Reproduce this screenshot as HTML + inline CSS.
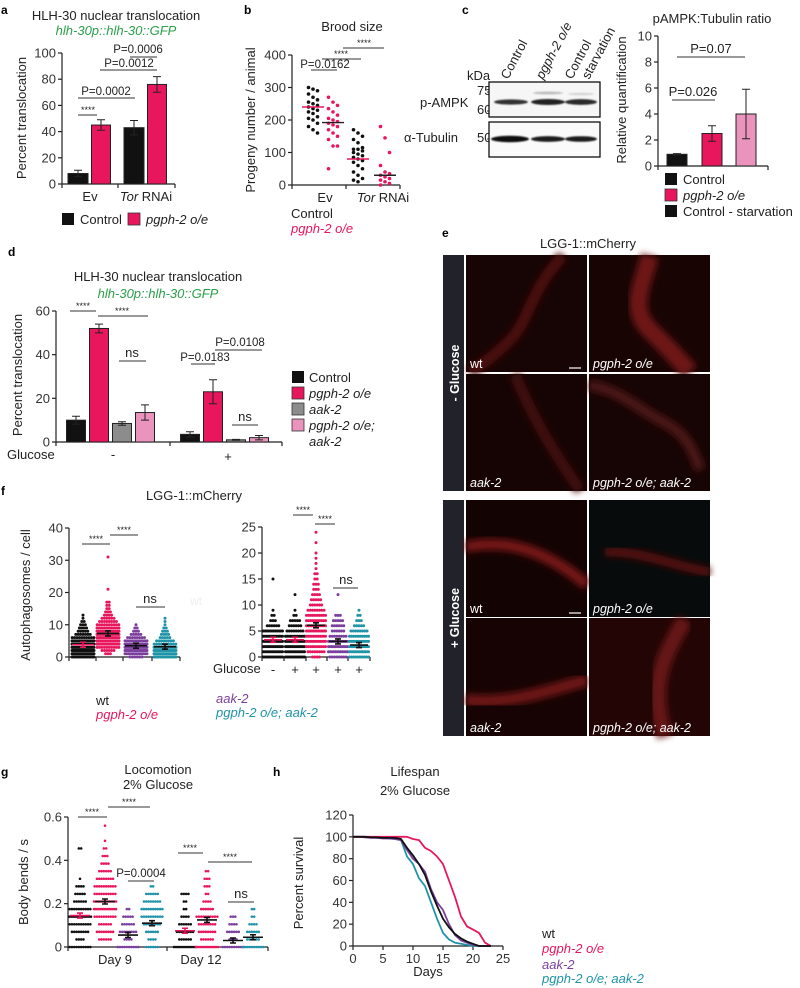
<!DOCTYPE html>
<html><head><meta charset="utf-8"><style>
html,body{margin:0;padding:0;background:#fff}
svg{display:block;font-family:"Liberation Sans",Arial,sans-serif}
.t{font-size:13px;fill:#222}
.tk{font-size:13px;fill:#333}
.s{font-size:9px;fill:#222}
.p{font-size:11.5px;fill:#222}
.pl{font-size:12px;font-weight:bold;fill:#000}
.ax{stroke:#222;stroke-width:1.2;fill:none}
.sg{stroke:#333;stroke-width:1;fill:none}
.it{font-style:italic}
.wl{font-size:12.5px;fill:#fff}
</style></head><body>
<svg id="fig" width="800" height="988" viewBox="0 0 800 988" xmlns="http://www.w3.org/2000/svg">
<defs>
<filter id="blur" x="-20%" y="-20%" width="140%" height="140%"><feGaussianBlur stdDeviation="3.5"/></filter>
<filter id="blur1"><feGaussianBlur stdDeviation="0.7"/></filter>
</defs>

<!-- Panel a -->
<g>
<text class="pl" x="1" y="14">a</text>
<text class="t" x="116" y="20" text-anchor="middle" font-size="14">HLH-30 nuclear translocation</text>
<text class="t it" x="116" y="35" text-anchor="middle" style="fill:#2ba04a" font-size="13.5">hlh-30p::hlh-30::GFP</text>
<text class="t" transform="translate(26,118) rotate(-90)" text-anchor="middle" font-size="13.5">Percent translocation</text>
<g id="aAxis"></g>
<g id="aBars"></g>
<g>
<line class="sg" x1="78" y1="115" x2="97" y2="115"/><text class="s" x="88" y="113" text-anchor="middle">****</text>
<line class="sg" x1="78" y1="98" x2="135" y2="98"/><text class="p" x="106" y="95" text-anchor="middle">P=0.0002</text>
<line class="sg" x1="100" y1="70" x2="157" y2="70"/><text class="p" x="129" y="67" text-anchor="middle">P=0.0012</text>
<line class="sg" x1="130" y1="57" x2="157" y2="57"/><text class="p" x="138" y="53" text-anchor="middle">P=0.0006</text>
</g>
<text class="t" x="90" y="201" text-anchor="middle">Ev</text>
<text class="t" x="146" y="201" text-anchor="middle"><tspan class="it">Tor</tspan> RNAi</text>
<rect x="62" y="213" width="12" height="12" fill="#111"/>
<text class="t" x="80" y="224">Control</text>
<rect x="128" y="213" width="12" height="12" fill="#e8175d" stroke="#333" stroke-width="0.8"/>
<text class="t it" x="146" y="224">pgph-2 o/e</text>
</g>

<!-- Panel b -->
<g>
<text class="pl" x="244" y="14">b</text>
<text class="t" x="352" y="31" text-anchor="middle" font-size="14">Brood size</text>
<text class="t" transform="translate(255,120) rotate(-90)" text-anchor="middle" font-size="13.5">Progeny number / animal</text>
<g id="bAxis"></g>
<g id="bDots"></g>
<g>
<line class="sg" x1="311" y1="70" x2="337" y2="70"/><text class="p" x="325" y="68" text-anchor="middle">P=0.0162</text>
<line class="sg" x1="322" y1="59" x2="361" y2="59"/><text class="s" x="341" y="57" text-anchor="middle">****</text>
<line class="sg" x1="343" y1="48" x2="384" y2="48"/><text class="s" x="364" y="46" text-anchor="middle">****</text>
</g>
<text class="t" x="325" y="202" text-anchor="middle">Ev</text>
<text class="t" x="383" y="202" text-anchor="middle"><tspan class="it">Tor</tspan> RNAi</text>
<text class="t" x="291" y="218">Control</text>
<text class="t it" x="291" y="233" style="fill:#e8175d">pgph-2 o/e</text>
</g>

<!-- Panel c -->
<g>
<text class="pl" x="462" y="14">c</text>
<text class="t" transform="translate(508,80) rotate(-62)">Control</text>
<text class="t it" transform="translate(543,80) rotate(-62)">pgph-2 o/e</text>
<text class="t" transform="translate(572,80) rotate(-62)">Control</text>
<text class="t" transform="translate(589,80) rotate(-62)">starvation</text>
<text class="t" x="467" y="80" font-size="9.5">kDa</text>
<text class="t" x="477" y="95" font-size="9">75</text>
<text class="t" x="477" y="114" font-size="9">60</text>
<text class="t" x="477" y="142" font-size="9">50</text>
<text class="t" x="420" y="107" font-size="13.5">p-AMPK</text>
<text class="t" x="404" y="142" font-size="13.5">α-Tubulin</text>
<line class="sg" x1="487" y1="92" x2="490" y2="92"/><line class="sg" x1="487" y1="111" x2="490" y2="111"/><line class="sg" x1="487" y1="139" x2="490" y2="139"/>
<rect x="489" y="82" width="111" height="35" fill="#f6f6f6" stroke="#111" stroke-width="1.3"/>
<rect x="489" y="122" width="111" height="35" fill="#fafafa" stroke="#111" stroke-width="1.3"/>
<g filter="url(#blur1)">
<ellipse cx="511" cy="102" rx="17" ry="2.6" fill="#333"/>
<ellipse cx="548" cy="102" rx="17" ry="3" fill="#222"/>
<ellipse cx="548" cy="93" rx="15" ry="1.4" fill="#bbb"/>
<ellipse cx="581" cy="102" rx="16" ry="2.9" fill="#2a2a2a"/>
<ellipse cx="581" cy="94" rx="13" ry="1.2" fill="#d4d4d4"/>
<ellipse cx="510" cy="139" rx="19" ry="3.2" fill="#111"/>
<ellipse cx="548" cy="139" rx="17" ry="2.9" fill="#1a1a1a"/>
<ellipse cx="581" cy="139" rx="16" ry="2.8" fill="#1e1e1e"/>
</g>
<text class="t" x="712" y="23" text-anchor="middle" font-size="13">pAMPK:Tubulin ratio</text>
<text class="t" transform="translate(626,100) rotate(-90)" text-anchor="middle" font-size="13">Relative quantification</text>
<g id="cAxis"></g>
<g id="cBars"></g>
<g>
<line class="sg" x1="672" y1="100" x2="715" y2="100"/><text class="t" x="693" y="96" text-anchor="middle">P=0.026</text>
<line class="sg" x1="677" y1="57" x2="745" y2="57"/><text class="t" x="711" y="53" text-anchor="middle">P=0.07</text>
</g>
<rect x="665" y="173" width="12" height="12" fill="#111"/>
<text class="t" x="683" y="184">Control</text>
<rect x="665" y="189" width="12" height="12" fill="#e8175d" stroke="#333" stroke-width="0.8"/>
<text class="t it" x="683" y="200">pgph-2 o/e</text>
<rect x="665" y="205" width="12" height="12" fill="#111"/>
<text class="t" x="683" y="216">Control - starvation</text>
</g>

<!-- Panel d -->
<g>
<text class="pl" x="8" y="256">d</text>
<text class="t" x="158" y="281" text-anchor="middle" font-size="14">HLH-30 nuclear translocation</text>
<text class="t it" x="158" y="298" text-anchor="middle" style="fill:#2ba04a" font-size="13.5">hlh-30p::hlh-30::GFP</text>
<text class="t" transform="translate(22,375) rotate(-90)" text-anchor="middle" font-size="13.5">Percent translocation</text>
<g id="dAxis"></g>
<g id="dBars"></g>
<g>
<line class="sg" x1="70" y1="311" x2="96" y2="311"/><text class="s" x="83" y="309" text-anchor="middle">****</text>
<line class="sg" x1="98" y1="316" x2="148" y2="316"/><text class="s" x="122" y="314" text-anchor="middle">****</text>
<line class="sg" x1="119" y1="361" x2="146" y2="361"/><text class="t" x="132" y="357" text-anchor="middle">ns</text>
<line class="sg" x1="191" y1="364" x2="215" y2="364"/><text class="p" x="205" y="361" text-anchor="middle">P=0.0183</text>
<line class="sg" x1="215" y1="350" x2="262" y2="350"/><text class="p" x="240" y="346" text-anchor="middle">P=0.0108</text>
<line class="sg" x1="232" y1="425" x2="258" y2="425"/><text class="t" x="245" y="421" text-anchor="middle">ns</text>
</g>
<text class="t" x="7" y="459" font-size="13.5">Glucose</text>
<text class="t" x="113" y="459" text-anchor="middle">-</text>
<text class="t" x="228" y="461" text-anchor="middle">+</text>
<rect x="292" y="371" width="12" height="12" fill="#111"/>
<text class="t" x="309" y="382">Control</text>
<rect x="292" y="387" width="12" height="12" fill="#e8175d" stroke="#333" stroke-width="0.8"/>
<text class="t it" x="309" y="398">pgph-2 o/e</text>
<rect x="292" y="403" width="12" height="12" fill="#8c8c8c" stroke="#333" stroke-width="0.8"/>
<text class="t it" x="309" y="414">aak-2</text>
<rect x="292" y="419" width="12" height="12" fill="#ea93bc" stroke="#333" stroke-width="0.8"/>
<text class="t it" x="309" y="430">pgph-2 o/e;</text>
<text class="t it" x="309" y="446">aak-2</text>
</g>

<!-- Panel e -->
<g>
<text class="pl" x="442" y="237">e</text>
<text class="t" x="588" y="248" text-anchor="middle">LGG-1::mCherry</text>
<rect x="443" y="255" width="21" height="236" fill="#22222a"/>
<text transform="translate(459,373) rotate(-90)" text-anchor="middle" font-size="12.5" font-weight="bold" fill="#fff">- Glucose</text>
<rect x="443" y="500" width="21" height="236" fill="#22222a"/>
<text transform="translate(459,618) rotate(-90)" text-anchor="middle" font-size="12.5" font-weight="bold" fill="#fff">+ Glucose</text>
<g><rect x="466" y="255" width="121" height="117" fill="#170404"/><path d="M563 256 C530 290 530 320 510 340 S 480 365 470 372" stroke="#4e1010" stroke-width="11" fill="none" filter="url(#blur)"/><line x1="569" y1="368" x2="581" y2="368" stroke="#fff" stroke-width="1.2"/><text class="wl" x="470" y="368">wt</text></g>
<g><rect x="589" y="255" width="121" height="117" fill="#190404"/><path d="M650 256 C640 290 630 310 650 330 S 670 350 690 372" stroke="#6e1414" stroke-width="18" fill="none" filter="url(#blur)"/><text class="wl it" x="593" y="368">pgph-2 o/e</text></g>
<g><rect x="466" y="374" width="121" height="117" fill="#160404"/><path d="M515 375 C530 410 545 440 580 490" stroke="#421010" stroke-width="11" fill="none" filter="url(#blur)"/><text class="wl it" x="470" y="487">aak-2</text></g>
<g><rect x="589" y="374" width="121" height="117" fill="#170404"/><path d="M589 385 C620 390 640 410 660 420 S 690 440 700 470" stroke="#4c1212" stroke-width="11" fill="none" filter="url(#blur)"/><text class="wl it" x="593" y="487">pgph-2 o/e; aak-2</text></g>
<g><rect x="466" y="500" width="121" height="117" fill="#140303"/><path d="M466 547 C500 540 540 545 587 585" stroke="#781616" stroke-width="11" fill="none" filter="url(#blur)"/><line x1="569" y1="613" x2="581" y2="613" stroke="#fff" stroke-width="1.2"/><text class="wl" x="470" y="613">wt</text></g>
<g><rect x="589" y="500" width="121" height="117" fill="#070b0b"/><path d="M605 552 C640 550 680 568 710 572" stroke="#5a1010" stroke-width="9" fill="none" filter="url(#blur)"/><text class="wl it" x="593" y="613">pgph-2 o/e</text></g>
<g><rect x="466" y="618" width="121" height="118" fill="#170303"/><path d="M466 700 C510 705 550 690 587 680" stroke="#701616" stroke-width="12" fill="none" filter="url(#blur)"/><text class="wl it" x="470" y="732">aak-2</text></g>
<g><rect x="589" y="618" width="121" height="118" fill="#240505"/><path d="M685 620 C660 660 650 690 665 736" stroke="#661414" stroke-width="16" fill="none" filter="url(#blur)"/><text class="wl it" x="593" y="732">pgph-2 o/e; aak-2</text></g>
</g>

<!-- Panel f -->
<g>
<text class="pl" x="1" y="495">f</text>
<text class="t" x="194" y="500" text-anchor="middle" font-size="14">LGG-1::mCherry</text>
<text class="t" transform="translate(30,595) rotate(-90)" text-anchor="middle" font-size="13.5">Autophagosomes / cell</text>
<g id="fAxis"></g>
<g id="fDots"></g>
<text x="190" y="605" font-size="12" fill="#eee">wt</text>
<g>
<line class="sg" x1="82" y1="544" x2="110" y2="544"/><text class="s" x="96" y="542" text-anchor="middle">****</text>
<line class="sg" x1="110" y1="535" x2="138" y2="535"/><text class="s" x="124" y="533" text-anchor="middle">****</text>
<line class="sg" x1="136" y1="607" x2="165" y2="607"/><text class="t" x="150" y="603" text-anchor="middle">ns</text>
<line class="sg" x1="293" y1="515" x2="313" y2="515"/><text class="s" x="303" y="513" text-anchor="middle">****</text>
<line class="sg" x1="315" y1="524" x2="335" y2="524"/><text class="s" x="325" y="522" text-anchor="middle">****</text>
<line class="sg" x1="333" y1="588" x2="358" y2="588"/><text class="t" x="346" y="584" text-anchor="middle">ns</text>
</g>
<text class="t" x="213" y="673" font-size="13.5">Glucose</text>
<text class="t" x="96" y="705">wt</text>
<text class="t it" x="96" y="719" style="fill:#e8175d">pgph-2 o/e</text>
<text class="t it" x="216" y="703" style="fill:#7b3f9e">aak-2</text>
<text class="t it" x="216" y="717" style="fill:#1f94a8">pgph-2 o/e; aak-2</text>
</g>

<!-- Panel g -->
<g>
<text class="pl" x="1" y="776">g</text>
<text class="t" x="158" y="774" text-anchor="middle" font-size="14">Locomotion</text>
<text class="t" x="158" y="789" text-anchor="middle" font-size="14">2% Glucose</text>
<text class="t" transform="translate(28,882) rotate(-90)" text-anchor="middle" font-size="13.5">Body bends / s</text>
<g id="gAxis"></g>
<g id="gDots"></g>
<g>
<line class="sg" x1="78" y1="817" x2="107" y2="817"/><text class="s" x="92" y="815" text-anchor="middle">****</text>
<line class="sg" x1="108" y1="807" x2="150" y2="807"/><text class="s" x="129" y="805" text-anchor="middle">****</text>
<line class="sg" x1="128" y1="881" x2="154" y2="881"/><text class="p" x="141" y="877" text-anchor="middle">P=0.0004</text>
<line class="sg" x1="178" y1="853" x2="203" y2="853"/><text class="s" x="190" y="851" text-anchor="middle">****</text>
<line class="sg" x1="208" y1="862" x2="252" y2="862"/><text class="s" x="230" y="860" text-anchor="middle">****</text>
<line class="sg" x1="228" y1="902" x2="254" y2="902"/><text class="t" x="241" y="898" text-anchor="middle">ns</text>
</g>
<text class="t" x="115" y="964" text-anchor="middle" font-size="14">Day 9</text>
<text class="t" x="201" y="964" text-anchor="middle" font-size="14">Day 12</text>
</g>

<!-- Panel h -->
<g>
<text class="pl" x="273" y="776">h</text>
<text class="t" x="415" y="776" text-anchor="middle" font-size="14">Lifespan</text>
<text class="t" x="415" y="795" text-anchor="middle" font-size="14">2% Glucose</text>
<text class="t" transform="translate(303,883) rotate(-90)" text-anchor="middle" font-size="13.5">Percent survival</text>
<g id="hAxis"></g>
<g id="hLines"></g>
<text class="t" x="428" y="976" text-anchor="middle" font-size="13.5">Days</text>
<text class="t" x="542" y="938">wt</text>
<text class="t it" x="542" y="953" style="fill:#e8175d">pgph-2 o/e</text>
<text class="t it" x="542" y="969" style="fill:#7b3f9e">aak-2</text>
<text class="t it" x="542" y="983" style="fill:#1f94a8">pgph-2 o/e; aak-2</text>
</g>
</svg>

<script>
// ---------- data ----------
const aCategories = ['Ev', 'Tor RNAi'];
const aControl = [8, 43];
const aPgph = [45, 76];
const aControlErr = [2.5, 5.5];
const aPgphErr = [4, 6];
const aTicks = [0, 20, 40, 60, 80, 100];

const bTicks = [0, 100, 200, 300, 400];
const bEvControl = [300,295,290,280,270,262,255,250,245,240,235,230,225,220,210,205,200,190,180,170,160];
const bEvPgph = [270,255,245,235,225,215,205,200,195,190,185,180,170,160,150,140,120,120,50];
const bTorControl = [170,160,150,140,130,115,110,110,105,100,95,90,85,80,75,70,60,50,40,30,20,15,10];
const bTorPgph = [180,145,100,60,40,35,30,25,20,15,10,5,0];
const bMedians = [240, 192, 80, 30];

const cValues = [0.9, 2.5, 4.0];
const cErrors = [0.05, 0.6, 1.9];
const cTicks = [0, 2, 4, 6, 8, 10];

const dControl = [10, 3.5];
const dPgph = [52, 23];
const dAak2 = [8.5, 1];
const dDouble = [13.5, 2];
const dControlErr = [1.8, 1.2];
const dPgphErr = [2, 5.5];
const dAak2Err = [0.8, 0.2];
const dDoubleErr = [3.5, 1];
const dTicks = [0, 20, 40, 60];

// counts of cells per integer autophagosome number (index = value)
const fLeftWt = [14,25,30,25,18,14,10,7,5,4,3,2,1,1];
const fLeftPgph = [0,3,6,10,14,18,20,18,15,12,10,8,6,4,3,2,2,2,0,0,0,1,0,0,0,0,0,0,0,0,0,1];
const fLeftAak2 = [6,14,20,20,16,12,8,5,3,2,1];
const fLeftDouble = [14,22,20,16,10,8,5,4,3,2,1,1,1];
const fLeftMeans = [3.8, 7.3, 3.5, 3.2];
const fLeftTicks = [0, 10, 20, 30, 40];
const fRightCtrlMinus = [12,14,16,16,14,12,6,3,2,1,0,0,0,0,0,1];
const fRightCtrlPlus = [12,14,16,14,12,8,6,5,2,1,0,0,1];
const fRightPgphPlus = [4,8,10,12,12,12,12,10,10,8,6,5,4,3,3,2,2,1,1,1,1,0,1,0,1];
const fRightAak2Plus = [8,12,14,12,8,6,6,5,3,0,0,0,1];
const fRightDoublePlus = [10,14,14,12,10,8,5,3,2,1];
const fRightMeans = [3.3, 3.3, 6.1, 3.0, 2.3];
const fRightGlucose = ['-', '+', '+', '+', '+'];
const fRightTicks = [0, 5, 10, 15, 20, 25];

// counts of worms per body-bend level (index k => k*0.035 bends/s)
const gStep = 0.035;
const gDay9Wt = [10,4,8,10,12,10,6,5,4,1,0,0,0,2];
const gDay9Pgph = [0,6,8,6,10,12,12,10,10,8,6,4,3,2,1,0,1];
const gDay9Aak2 = [10,4,8,6,5,2];
const gDay9Double = [6,4,6,8,10,10,8,6,2];
const gDay12Wt = [12,6,8,6,4,2,2,4];
const gDay12Pgph = [12,6,8,8,10,6,4,2,3,3,2];
const gDay12Aak2 = [10,4,6,4,3];
const gDay12Double = [10,6,6,4,2,2];
const gMeans = [0.145, 0.21, 0.055, 0.11, 0.075, 0.125, 0.03, 0.045];
const gTicks = [0, 0.2, 0.4, 0.6];

const hDays = [0,1,2,3,4,5,6,7,8,9,10,11,12,13,14,15,16,17,18,19,20,21,22,23];
const hWt = [100,100,100,99.5,99.5,99,99,99,98,90,83,75,65,50,37,25,17,11,7,4,2,0,0,0];
const hPgph = [100,100,100,100,100,100,100,100,100,100,98,97,90,87,82,75,60,45,27,18,15,12,3,0];
const hAak2 = [100,100,99.5,99,99,98.5,98.5,98,97,88,80,75,68,52,40,33,20,10,5,3,1,0,0,0];
const hDouble = [100,100,100,99.5,99,99,98.5,98,97,82,75,62,55,40,25,12,6,3,2,1,0,0,0,0];
const hXTicks = [0, 5, 10, 15, 20, 25];
const hYTicks = [0, 20, 40, 60, 80, 100, 120];

// ---------- helpers ----------
const NS = 'http://www.w3.org/2000/svg';
const PINK = '#e8175d', LPINK = '#ea93bc', GRAY = '#8c8c8c', PURPLE = '#7b3f9e', TEAL = '#1f94a8', BLACK = '#111';
function lin(d0, d1, r0, r1) { return v => r0 + (v - d0) * (r1 - r0) / (d1 - d0); }
function mk(parent, tag, attrs) {
  const el = document.createElementNS(NS, tag);
  for (const k in attrs) el.setAttribute(k, attrs[k]);
  parent.appendChild(el);
  return el;
}
function yAxis(g, x, y, ticks, fmt, name) {
  const ln = mk(g, 'line', {x1: x, y1: y(ticks[0]), x2: x, y2: y(ticks[ticks.length - 1]), class: 'ax'});
  
  
  ticks.forEach(t => {
    const tk = mk(g, 'line', {x1: x - 4, y1: y(t), x2: x, y2: y(t), class: 'ax'});
    
    
    const tx = mk(g, 'text', {x: x - 6, y: y(t) + 4.5, 'text-anchor': 'end', class: 'tk'});
    tx.textContent = fmt(t);
    
    
  });
}
function xAxis(g, x0, x1, y, ticks, name) {
  const ln = mk(g, 'line', {x1: x0, y1: y, x2: x1, y2: y, class: 'ax'});
  
  
  ticks.forEach(t => {
    const tk = mk(g, 'line', {x1: t, y1: y, x2: t, y2: y + 4, class: 'ax'});
    
    
  });
}
function bar(g, cx, w, y, v, err, fill, name) {
  const r = mk(g, 'rect', {x: cx - w / 2, y: y(v), width: w, height: y(0) - y(v), fill: fill, stroke: '#222', 'stroke-width': 1});
  
  
  const e = mk(g, 'path', {d: `M${cx} ${y(v - err)}V${y(v + err)}M${cx - 4} ${y(v + err)}H${cx + 4}M${cx - 4} ${y(v - err)}H${cx + 4}`, stroke: '#222', 'stroke-width': 1, fill: 'none'});
  
  
}
function swarm(g, cx, y, counts, step, color, r, sp, maxHalf, name) {
  counts.forEach((n, k) => {
    if (!n) return;
    const s = Math.min(sp, n > 1 ? 2 * maxHalf / (n - 1) : sp);
    for (let j = 0; j < n; j++) {
      const c = mk(g, 'circle', {cx: cx + (j - (n - 1) / 2) * s, cy: y(k * step), r: r, fill: color});
      
      
    }
  });
}
function meanLine(g, cx, w, yv, color, name) {
  const l = mk(g, 'path', {d: `M${cx - w / 2} ${yv}H${cx + w / 2}M${cx - 3} ${yv - 2.5}H${cx + 3}M${cx - 3} ${yv + 2.5}H${cx + 3}M${cx} ${yv - 2.5}V${yv + 2.5}`, stroke: color, 'stroke-width': 1.6, fill: 'none'});
  
  
}

// ---------- panel a ----------
(function () {
  const g = document.getElementById('aBars'), ga = document.getElementById('aAxis');
  const y = lin(0, 100, 184, 53);
  yAxis(ga, 62, y, aTicks, t => t, 'a');
  xAxis(ga, 62, 175, 184, [62, 118, 175], 'a');
  const centers = [90, 146];
  aCategories.forEach((c, i) => {
    bar(g, centers[i] - 12, 20, y, aControl[i], aControlErr[i], BLACK, 'bar-control-' + i);
    bar(g, centers[i] + 11, 19, y, aPgph[i], aPgphErr[i], PINK, 'bar-pgph-' + i);
  });
})();

// ---------- panel b ----------
(function () {
  const g = document.getElementById('bDots'), ga = document.getElementById('bAxis');
  const y = lin(0, 400, 185, 55);
  yAxis(ga, 292, y, bTicks, t => t, 'b');
  xAxis(ga, 292, 400, 185, [292, 346, 400], 'b');
  const cols = [[313, bEvControl, BLACK, PINK], [333, bEvPgph, PINK, '#222'], [358, bTorControl, BLACK, PINK], [385, bTorPgph, PINK, '#222']];
  cols.forEach((c, ci) => {
    c[1].forEach((v, i) => {
      const dx = ((i % 3) - 1) * 4.5;
      const p = mk(g, 'circle', {cx: c[0] + dx, cy: y(v), r: 1.8, fill: c[2]});
      
      
    });
    const m = mk(g, 'line', {x1: c[0] - 11, x2: c[0] + 11, y1: y(bMedians[ci]), y2: y(bMedians[ci]), stroke: c[3], 'stroke-width': 1.4});
    
    
  });
})();

// ---------- panel c ----------
(function () {
  const g = document.getElementById('cBars'), ga = document.getElementById('cAxis');
  const y = lin(0, 10, 166, 36);
  yAxis(ga, 658, y, cTicks, t => t, 'c');
  xAxis(ga, 658, 768, 166, [658, 768], 'c');
  const centers = [677, 712, 746], fills = [BLACK, PINK, LPINK];
  cValues.forEach((v, i) => bar(g, centers[i], 20, y, v, cErrors[i], fills[i], 'bar-pampk-' + i));
})();

// ---------- panel d ----------
(function () {
  const g = document.getElementById('dBars'), ga = document.getElementById('dAxis');
  const y = lin(0, 60, 442, 311);
  yAxis(ga, 56, y, dTicks, t => t, 'd');
  xAxis(ga, 56, 282, 442, [56, 170, 282], 'd');
  const groups = [111, 225], offs = [-35, -12, 11, 34];
  const series = [[dControl, dControlErr, BLACK, 'control'], [dPgph, dPgphErr, PINK, 'pgph'], [dAak2, dAak2Err, GRAY, 'aak2'], [dDouble, dDoubleErr, LPINK, 'double']];
  groups.forEach((gc, i) => series.forEach((s, j) => bar(g, gc + offs[j], 19, y, s[0][i], s[1][i], s[2], 'bar-' + s[3] + '-' + i)));
})();

// ---------- panel f ----------
(function () {
  const g = document.getElementById('fDots'), ga = document.getElementById('fAxis');
  const yl = lin(0, 40, 657, 528);
  const yr = lin(0, 25, 657, 527);
  yAxis(ga, 69, yl, fLeftTicks, t => t, 'f-left');
  xAxis(ga, 69, 180, 657, [69, 96, 123, 152, 180], 'f-left');
  yAxis(ga, 262, yr, fRightTicks, t => t, 'f-right');
  xAxis(ga, 262, 370, 657, [262, 284, 306, 327, 348, 370], 'f-right');
  const lc = [83, 108, 136, 165];
  const ls = [[fLeftWt, BLACK, PINK], [fLeftPgph, PINK, BLACK], [fLeftAak2, PURPLE, BLACK], [fLeftDouble, TEAL, BLACK]];
  ls.forEach((s, i) => { swarm(g, lc[i], yl, s[0], 1, s[1], 1.5, 2.4, 11, 'f-left-' + i); meanLine(g, lc[i], 22, yl(fLeftMeans[i]), s[2], 'f-left-' + i); });
  const rc = [273, 295, 316, 338, 359];
  const rs = [[fRightCtrlMinus, BLACK, PINK], [fRightCtrlPlus, BLACK, PINK], [fRightPgphPlus, PINK, BLACK], [fRightAak2Plus, PURPLE, BLACK], [fRightDoublePlus, TEAL, BLACK]];
  rs.forEach((s, i) => {
    swarm(g, rc[i], yr, s[0], 1, s[1], 1.5, 2.3, 9.5, 'f-right-' + i);
    meanLine(g, rc[i], 18, yr(fRightMeans[i]), s[2], 'f-right-' + i);
    const t = mk(g, 'text', {x: rc[i], y: 674, 'text-anchor': 'middle', class: 't'});
    t.textContent = fRightGlucose[i];
    
    
  });
})();

// ---------- panel g ----------
(function () {
  const g = document.getElementById('gDots'), ga = document.getElementById('gAxis');
  const y = lin(0, 0.6, 947, 817);
  yAxis(ga, 68, y, gTicks, t => t === 0 ? '0' : t.toFixed(1), 'g');
  xAxis(ga, 68, 268, 947, [68, 167, 268], 'g');
  const cx = [80, 105, 128, 152, 185, 207, 233, 253];
  const cols = [[gDay9Wt, BLACK], [gDay9Pgph, PINK], [gDay9Aak2, PURPLE], [gDay9Double, TEAL], [gDay12Wt, BLACK], [gDay12Pgph, PINK], [gDay12Aak2, PURPLE], [gDay12Double, TEAL]];
  cols.forEach((c, i) => {
    swarm(g, cx[i], y, c[0], gStep, c[1], 1.3, 2.3, 11, 'g-' + i);
    meanLine(g, cx[i], 20, y(gMeans[i]), i % 4 === 0 ? PINK : BLACK, 'g-' + i);
  });
})();

// ---------- panel h ----------
(function () {
  const g = document.getElementById('hLines'), ga = document.getElementById('hAxis');
  const x = lin(0, 25, 353, 503);
  const y = lin(0, 120, 946, 815);
  yAxis(ga, 353, y, hYTicks, t => t, 'h');
  const ln = mk(ga, 'line', {x1: 353, y1: 946, x2: 503, y2: 946, class: 'ax'});
  
  
  hXTicks.forEach(t => {
    const tk = mk(ga, 'line', {x1: x(t), y1: 946, x2: x(t), y2: 950, class: 'ax'});
    
    
    const tx = mk(ga, 'text', {x: x(t), y: 963, 'text-anchor': 'middle', class: 'tk'});
    tx.textContent = t;
    
    
  });
  const series = [[hDouble, TEAL, 'double'], [hAak2, PURPLE, 'aak2'], [hPgph, PINK, 'pgph'], [hWt, BLACK, 'wt']];
  series.forEach(s => {
    const d = s[0].map((v, i) => (i ? 'L' : 'M') + x(hDays[i]).toFixed(1) + ' ' + y(v).toFixed(1)).join('');
    const p = mk(g, 'path', {d: d, stroke: s[1], 'stroke-width': 1.8, fill: 'none', 'stroke-linejoin': 'round'});
    
    
  });
})();
</script>
</body></html>
